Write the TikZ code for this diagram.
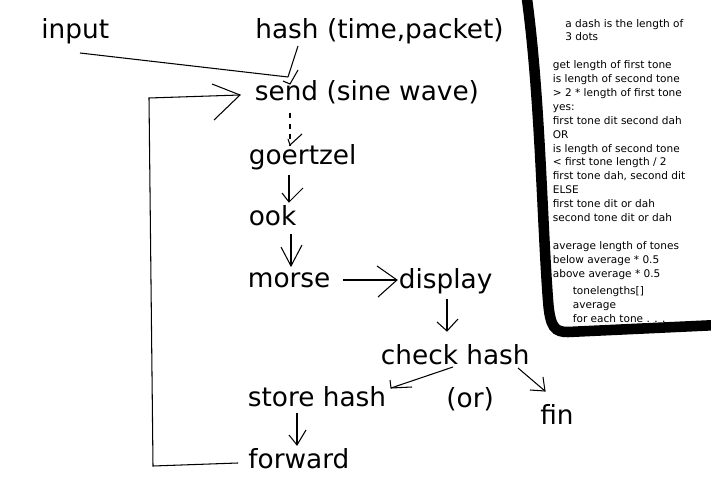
\documentclass[tikz,border=0pt]{standalone}
\usepackage{fontspec}
\setmainfont{DejaVu Sans}

\tikzset{
  word/.style={font=\fontsize{15}{18}\selectfont, inner sep=0pt, anchor=base west},
  memo/.style={font=\fontsize{6}{7.9}\selectfont, inner sep=0pt, anchor=base west, align=left},
  pen/.style={line width=0.6pt},
}

\begin{document}
\begin{tikzpicture}[x=0.02cm, y=-0.02cm]
    \useasboundingbox (0,0) rectangle (711,500);

    % flow words
    \node[word] (input) at (41,39) {input};
    \node[word] (hash) at (255,39) {hash (time,packet)};
    \node[word] (send) at (254.5,101) {send (sine wave)};
    \node[word] (goertzel) at (248.5,165) {goertzel};
    \node[word] (ook) at (248.5,226) {ook};
    \node[word] (morse) at (247.5,288) {morse};
    \node[word] (display) at (398.5,289) {display};
    \node[word] (check) at (380.5,364) {check hash};
    \node[word] (store) at (247.5,406) {store hash};
    \node[word] (either) at (446,407) {(or)};
    \node[word] (fin) at (540,424) {fin};
    \node[word] (forward) at (248,468) {forward};

    % input and hash meet above send
    \coordinate (input-out) at (80,53);
    \coordinate (hash-out) at (298,46);
    \coordinate (join) at (288,77);
    \coordinate (send-in) at (290,84);
    \draw[pen] (input-out) -- (join);
    \draw[pen] (hash-out) -- (join);
    \draw[pen] (join) ++(-5,4) -- (send-in) -- ++(8,-14);

    % loop back from forward to send
    \coordinate (forward-out) at (238,463);
    \coordinate (loop-in) at (240,95);
    \draw[pen] (forward-out) -- (153,466) -- (149,98) -- (loop-in);
    \draw[pen] (loop-in) ++(-28,-11) -- (loop-in) -- ++(-26,25);

    % send to goertzel (dashed)
    \coordinate (send-out) at (290,113);
    \coordinate (goertzel-in) at (290,145);
    \draw[pen, dashed] (send-out) -- (goertzel-in);
    \draw[pen] (goertzel-in) ++(-2,-6) -- (goertzel-in) -- ++(12,-11);

    % goertzel to ook
    \coordinate (goertzel-out) at (289,175);
    \coordinate (ook-in) at (289,202);
    \draw[pen] (goertzel-out) -- (ook-in);
    \draw[pen] (ook-in) ++(-7,-9) -- (ook-in) -- ++(14,-14);

    % ook to morse
    \coordinate (ook-out) at (291,234);
    \coordinate (morse-in) at (291,266);
    \draw[pen] (ook-out) -- (morse-in);
    \draw[pen] (morse-in) ++(-10,-19) -- (morse-in) -- ++(11,-21);

    % morse to display
    \coordinate (morse-out) at (343,280);
    \coordinate (display-in) at (397,280);
    \draw[pen] (morse-out) -- (display-in);
    \draw[pen] (display-in) ++(-20,-14) -- (display-in) -- ++(-19,17);

    % display to check hash
    \coordinate (display-out) at (447,299);
    \coordinate (check-in) at (447,331);
    \draw[pen] (display-out) -- (check-in);
    \draw[pen] (check-in) ++(-10,-9) -- (check-in) -- ++(11,-12);

    % check hash to store hash
    \coordinate (check-left) at (453,367);
    \coordinate (store-in) at (391,388);
    \draw[pen] (check-left) -- (store-in);
    \draw[pen] (store-in) ++(-1,-8) -- (store-in) -- ++(21,-1);

    % check hash to fin
    \coordinate (check-right) at (518,368);
    \coordinate (fin-in) at (545,391);
    \draw[pen] (check-right) -- (fin-in);
    \draw[pen] (fin-in) ++(-2,-14) -- (fin-in) -- ++(-15,-1);

    % store hash to forward
    \coordinate (store-out) at (297,413);
    \coordinate (forward-in) at (297,445);
    \draw[pen] (store-out) -- (forward-in);
    \draw[pen] (forward-in) ++(-8,-10) -- (forward-in) -- ++(9,-15);

    % notes panel with thick border (memo nodes sit on their last line)
    \draw[line width=6pt] (526,-8) .. controls (540,90) and (542,220) .. (548,300)
        .. controls (550,328) and (555,332) .. (568,332) -- (718,325);
    \node[memo] (dashnote) at (565,41) {a dash is the length of\\3 dots};
    \node[memo] (rules) at (552.5,277) {get length of first tone\\is length of second tone\\> 2 * length of first tone\\yes:\\first tone dit second dah\\OR\\is length of second tone\\< first tone length / 2\\first tone dah, second dit\\ELSE\\first tone dit or dah\\second tone dit or dah\\[7.9pt]average length of tones\\below average * 0.5\\above average * 0.5};
    \node[memo] (loopnote) at (572.5,322) {tonelengths[]\\average\\for each tone . . .};
\end{tikzpicture}
\end{document}
